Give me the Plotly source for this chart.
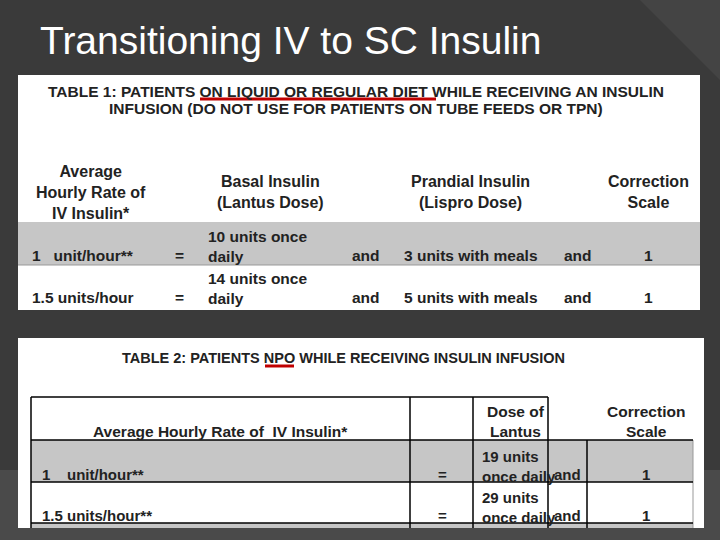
import plotly.graph_objects as go

title = "Transitioning IV to SC Insulin"
t1_title = ["TABLE 1: PATIENTS ON LIQUID OR REGULAR DIET WHILE RECEIVING AN INSULIN",
            "INFUSION (DO NOT USE FOR PATIENTS ON TUBE FEEDS OR TPN)"]
t1_headers = ["Average<br>Hourly Rate of<br>IV Insulin*", "Basal Insulin<br>(Lantus Dose)",
              "Prandial Insulin<br>(Lispro Dose)", "Correction<br>Scale"]
t1_rate = ["1   unit/hour**", "1.5 units/hour"]
t1_basal = ["10 units once<br>daily", "14 units once<br>daily"]
t1_prandial = ["3 units with meals", "5 units with meals"]
t1_scale = ["1", "1"]
t2_title = "TABLE 2: PATIENTS NPO WHILE RECEIVING INSULIN INFUSION"
t2_headers = ["Average Hourly Rate of  IV Insulin*", "Dose of<br>Lantus", "Correction<br>Scale"]
t2_rate = ["1    unit/hour**", "1.5 units/hour**"]
t2_lantus = ["19 units<br>once daily", "29 units<br>once daily"]
t2_scale = ["1", "1"]

fig = go.Figure()
shapes = []
ann = []
F = "Liberation Sans, Arial"
def rect(x0, y0, x1, y1, fill):
    shapes.append(dict(type="rect", x0=x0, y0=y0, x1=x1, y1=y1, fillcolor=fill,
                       line=dict(width=0), layer="below"))
def line(x0, y0, x1, y1, c="black", w=1.5):
    shapes.append(dict(type="line", x0=x0, y0=y0, x1=x1, y1=y1, line=dict(color=c, width=w)))
def text(x, y, s, size=15, anchor="left", bold=True, color="#222"):
    ann.append(dict(x=x, y=y, text=f"<b>{s}</b>" if bold else s, showarrow=False, xanchor=anchor,
                    yanchor="middle", font=dict(family=F, size=size, color=color), align=anchor))

shapes.append(dict(type="path", path="M 0 470 L 720 470 L 720 540 L 0 540 Z", fillcolor="#4a4a4a", line=dict(width=0), layer="below"))
shapes.append(dict(type="path", path="M 640 0 L 720 0 L 720 80 Z", fillcolor="#444", line=dict(width=0), layer="below"))

# Table 1
rect(18, 75, 700, 310, "white")
rect(18, 222, 700, 265, "#c6c6c6")
line(18, 265, 700, 265, "#999", 1)
text(356, 91, t1_title[0], 15.5, "center")
text(356, 108, t1_title[1], 15.5, "center")
line(200, 99, 436, 99, "#c00000", 3)
xs = [91, 270, 470, 648]
for x, h in zip(xs, t1_headers):
    text(x, 192, h, 16, "center")
for i in range(2):
    y = 246 + i * 42
    yb = 255 + i * 42
    text(30, yb, t1_rate[i], 15.5)
    text(179, yb, "=", 15.5, "center")
    text(206, y, t1_basal[i], 15.5)
    text(350, yb, "and", 15.5)
    text(402, yb, t1_prandial[i], 15.5)
    text(562, yb, "and", 15.5)
    text(648, yb, t1_scale[i], 15.5, "center")

# Table 2
rect(18, 338, 704, 528, "white")
rect(31, 440, 693, 482, "#c6c6c6")
rect(31, 523, 693, 528, "#c6c6c6")
text(343, 358, t2_title, 14.5, "center")
line(265, 366, 294, 366, "#c00000", 3)
line(31, 397, 548, 397)
for x in [31, 410, 473, 548]:
    line(x, 397, x, 528)
line(587, 440, 587, 528)
line(693, 440, 693, 528, "#999", 1)
for y in [440, 482, 523]:
    line(31, y, 693, y)
text(220, 431, t2_headers[0], 15.5, "center")
text(516, 421, t2_headers[1], 15.5, "center")
text(646, 421, t2_headers[2], 15.5, "center")
for i in range(2):
    yb = 474 + i * 41
    text(40, yb, t2_rate[i], 15)
    text(442, yb, "=", 15, "center")
    text(480, yb - 8, t2_lantus[i], 15)
    text(567, yb, "and", 15, "center")
    text(646, yb, t2_scale[i], 15, "center")

text(38, 40, title, 39, bold=False, color="white")

fig.update_layout(width=720, height=540, margin=dict(l=0, r=0, t=0, b=0),
                  plot_bgcolor="#3a3a3a", paper_bgcolor="#3a3a3a",
                  xaxis=dict(range=[0, 720], visible=False, fixedrange=True),
                  yaxis=dict(range=[540, 0], visible=False, fixedrange=True),
                  shapes=shapes, annotations=ann, showlegend=False)
fig.write_html("out.html", config={"displayModeBar": False},
               post_script="document.body.style.margin='0';document.body.style.background='#3a3a3a';")
